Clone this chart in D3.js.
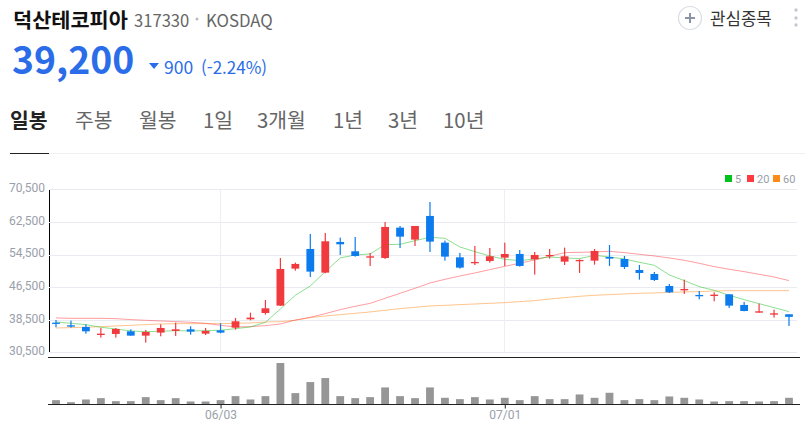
<!DOCTYPE html>
<html lang="ko">
<head>
    <meta charset="UTF-8">
    <title>덕산테코피아</title>
    <script src="https://d3js.org/d3.v7.min.js"></script>
    <style>
        html, body { margin: 0; padding: 0; background: #fff; overflow: hidden; }
        svg { display: block; }
        text { font-family: "Noto Sans CJK KR", "Noto Sans", sans-serif; }
        .axis text { font-family: Roboto, sans-serif; font-size: 12px; fill: #99a0aa; }
        .axis path, .axis line { fill: none; }
        .ma { fill: none; stroke-width: 1px; stroke-opacity: 0.5; }
    </style>
</head>
<body>
<div id="chart"></div>

<script>
    var dates = ["05/18","05/19","05/20","05/23","05/24","05/25","05/26","05/27","05/30","05/31","06/02",
        "06/03","06/07","06/08","06/09","06/10","06/13","06/14","06/15","06/16","06/17",
        "06/20","06/21","06/22","06/23","06/24","06/27","06/28","06/29","06/30",
        "07/01","07/04","07/05","07/06","07/07","07/08","07/11","07/12","07/13","07/14","07/15",
        "07/18","07/19","07/20","07/21","07/22","07/25","07/26","07/27","07/28"];

    var open = [37780,37130,36720,34750,35000,35650,34590,35330,35740,36140,35080,35900,36550,38600,40150,41950,
        51030,55860,50050,57580,55290,53730,53650,61090,58150,63960,57410,53810,52420,52910,53730,54630,53320,
        54140,52750,52910,52990,53890,53400,50700,49720,46780,45710,44570,44320,44730,42120,40230,39740,39830];
    var close = [37620,36800,35650,35080,36230,34590,35490,36470,36140,35570,35740,35330,38110,39010,41300,50950,
        52180,50300,57740,57000,54140,54060,61260,58880,61500,57660,53980,51280,52670,54060,54630,51690,54390,
        54390,54060,53160,55370,53490,51440,49970,48250,45220,46040,44320,44650,41950,40640,40560,40070,39200];
    var high = [38430,38270,37370,36470,36470,36140,35980,37370,37780,36880,36470,37620,38930,40230,43340,53650,
        52500,59540,59780,58640,58800,54880,62480,61500,61500,67390,57900,54880,56590,56100,57410,55610,55120,
        55860,56190,53320,55860,56840,54140,51930,50210,47270,48330,45550,45220,44730,42850,42440,40970,39830];
    var low = [36640,36550,35080,34100,34100,34590,32870,34430,34510,34840,34750,35160,36060,38350,39740,41870,
        50540,48990,49890,54390,53980,51690,53400,56100,56590,55120,52990,51030,51930,52500,51690,51520,49560,
        53490,51930,49970,52010,51690,50950,48330,48010,45060,44820,43510,43020,41380,40560,40230,39010,36960];
    var volume = [130,70,150,190,100,100,220,130,190,90,90,130,250,150,250,1240,
        340,670,790,250,190,220,510,250,190,510,200,160,220,150,200,130,250,
        160,160,300,200,350,130,160,130,240,200,150,90,100,100,90,100,200];

    var ma5 = [37940,37620,37290,36640,36230,35740,35570,35650,35820,35740,35820,35900,36310,36720,37860,41130,
        44490,46780,50300,53650,54390,54630,56920,57000,57900,58720,58480,56350,55200,54140,53320,52990,53400,
        53890,53650,53490,54300,53890,53400,52590,51850,49480,48090,46610,45710,44490,43420,42440,41460,40480];
    var ma20 = [38930,38840,38840,38840,38760,38520,38350,38190,38030,37860,37620,37130,36720,36800,37040,37450,
        38430,39090,39990,40970,41790,42520,43750,44980,46210,47510,48410,49230,49970,50790,51600,52340,53160,
        54060,54960,55040,55120,55290,54960,54550,54140,53650,53080,52340,51520,50870,50300,49640,48990,48090];
    var ma60 = [36470,36550,36640,36800,36960,37130,37290,37450,37530,37530,37530,37530,37620,37700,37940,38030,
        38350,39010,39420,39740,40070,40400,40810,41220,41540,41870,42030,42200,42360,42520,42690,42930,43180,
        43590,43920,44240,44490,44650,44820,44980,45060,45220,45310,45390,45550,45630,45630,45630,45630,45630];

    var yTicks = [30500,38500,46500,54500,62500,70500];
    var xTicks = ["06/03","07/01"];
    var tabs = ["일봉","주봉","월봉","1일","3개월","1년","3년","10년"];
    var tabX = [10,75,139,203,257,333,388,443];
    var maNames = ["5","20","60"];
    var maLegendColors = ["#00c21c","#ff3b42","#ff8a1c"];

    var red = "#f03a3e", blue = "#0c7bee";

    var svg = d3.select("#chart").append("svg")
        .attr("width", 805)
        .attr("height", 422);

    // header
    function label(x, y, str, size, fill, weight) {
        return svg.append("text")
            .attr("x", x).attr("y", y)
            .attr("font-size", size)
            .attr("font-weight", weight || 400)
            .attr("fill", fill)
            .text(str);
    }
    label(13, 28, "덕산테코피아", 20.8, "#111", 700);
    label(134, 27, "317330", 16.6, "#666");
    svg.append("circle").attr("cx", 197).attr("cy", 19).attr("r", 1.5).attr("fill", "#bbb");
    label(206, 27, "KOSDAQ", 16.8, "#666");
    label(12, 74, "39,200", 37.3, "#2b6de8", 700);
    svg.append("path").attr("d", "M149,63h10l-5,6z").attr("fill", "#2b6de8");
    label(164, 74, "900", 17.5, "#2b6de8");
    label(201, 74, "(-2.24%)", 17, "#2b6de8");

    svg.selectAll("text.tab").data(tabs).enter().append("text")
        .attr("class", "tab")
        .attr("x", function(d, i) { return tabX[i]; })
        .attr("y", 128)
        .attr("font-size", 20.4)
        .attr("font-weight", function(d, i) { return i == 0 ? 700 : 400; })
        .attr("fill", function(d, i) { return i == 0 ? "#222" : "#666"; })
        .text(function(d) { return d; });
    svg.append("line").attr("x1", 10).attr("x2", 805).attr("y1", 153.5).attr("y2", 153.5).attr("stroke", "#f0f0f0");
    svg.append("line").attr("x1", 10).attr("x2", 49).attr("y1", 153.5).attr("y2", 153.5).attr("stroke", "#222");

    svg.append("circle").attr("cx", 690).attr("cy", 18).attr("r", 11.5)
        .attr("fill", "#fff").attr("stroke", "#d8dce4").attr("stroke-width", 1.2);
    svg.append("path").attr("d", "M685,18h10M690,13v10").attr("stroke", "#8a94a6").attr("stroke-width", 2);
    label(710, 24.5, "관심종목", 16.8, "#333");
    svg.selectAll("circle.dot").data([10, 18, 25]).enter().append("circle")
        .attr("class", "dot")
        .attr("cx", 796).attr("cy", function(d) { return d; }).attr("r", 1.7).attr("fill", "#c4c8d0");

    // legend
    var legendX = [725, 747, 773];
    maNames.forEach(function(name, i) {
        svg.append("rect").attr("x", legendX[i]).attr("y", 175).attr("width", 7).attr("height", 7)
            .attr("fill", maLegendColors[i]);
        svg.append("text").attr("x", legendX[i] + 10).attr("y", 183)
            .style("font-family", "Roboto, sans-serif")
            .attr("font-size", 11).attr("fill", "#99a0aa").text(name);
    });

    // scales
    var x = d3.scalePoint().domain(dates).range([56, 789]);
    var y = d3.scaleLinear().domain([30500, 70500]).range([352.3, 189.3]);
    var yVol = d3.scaleLinear().domain([0, 1240]).range([404.5, 363]);

    // axes
    var yAxis = d3.axisLeft(y).tickValues(yTicks).tickSize(0).tickPadding(4).tickFormat(d3.format(","));
    var gy = svg.append("g").attr("class", "axis").attr("transform", "translate(49,0)").call(yAxis);
    gy.selectAll("text").attr("dy", "0.2em");

    svg.append("g").selectAll("line").data(yTicks).enter().append("line")
        .attr("x1", 49).attr("x2", 797)
        .attr("y1", function(d) { return Math.round(y(d)) + 0.5; })
        .attr("y2", function(d) { return Math.round(y(d)) + 0.5; })
        .attr("stroke", "#e9ebf0");

    svg.append("g").selectAll("line").data(xTicks).enter().append("line")
        .attr("x1", function(d) { return Math.round(x(d)) - 0.5; })
        .attr("x2", function(d) { return Math.round(x(d)) - 0.5; })
        .attr("y1", 189).attr("y2", 352)
        .attr("stroke", "#edeff3");

    // moving averages
    var line = d3.line().x(function(d, i) { return x(dates[i]); }).y(function(d) { return y(d); });
    [[ma60, "#ff8a1c"], [ma20, "#ff3b42"], [ma5, "#18c020"]].forEach(function(m) {
        svg.append("path").datum(m[0]).attr("class", "ma").attr("stroke", m[1]).attr("d", line);
    });

    // candles
    var candle = svg.append("g").selectAll("g").data(dates).enter().append("g")
        .attr("fill", function(d, i) { return close[i] >= open[i] ? red : blue; })
        .attr("stroke", "none");
    candle.append("rect")
        .attr("x", function(d) { return x(d) - 0.6; })
        .attr("width", 1.2)
        .attr("y", function(d, i) { return y(high[i]); })
        .attr("height", function(d, i) { return y(low[i]) - y(high[i]); });
    candle.append("rect")
        .attr("x", function(d) { return x(d) - 3.9; })
        .attr("width", 7.8)
        .attr("y", function(d, i) { return y(Math.max(open[i], close[i])); })
        .attr("height", function(d, i) { return Math.max(1.3, Math.abs(y(open[i]) - y(close[i]))); });

    // volume
    svg.append("g").selectAll("rect").data(dates).enter().append("rect")
        .attr("x", function(d) { return x(d) - 3.9; })
        .attr("width", 7.8)
        .attr("y", function(d, i) { return yVol(volume[i]); })
        .attr("height", function(d, i) { return yVol(0) - yVol(volume[i]); })
        .attr("fill", "#969696");

    svg.append("line").attr("x1", 48).attr("x2", 800).attr("y1", 357.5).attr("y2", 357.5).attr("stroke", "#222").attr("stroke-width", 1);
    svg.append("line").attr("x1", 48).attr("x2", 800).attr("y1", 404.5).attr("y2", 404.5).attr("stroke", "#222").attr("stroke-width", 1);

    var xAxis = d3.axisBottom(x).tickValues(xTicks).tickSize(4).tickPadding(2.4);
    var gx = svg.append("g").attr("class", "axis").attr("transform", "translate(0,404.5)").call(xAxis);
    gx.select(".domain").remove();
    gx.selectAll("line").attr("stroke", "#222");
</script>
</body>
</html>
